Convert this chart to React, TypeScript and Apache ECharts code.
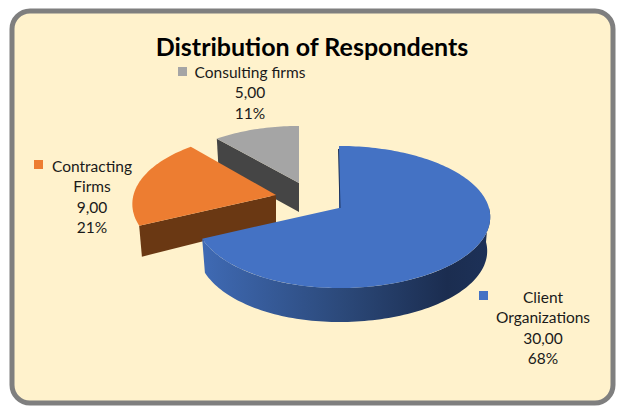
import React, { useEffect, useRef } from "react";
import * as echarts from "echarts";

const titleText = "Distribution of Respondents";
const categories = ["Client Organizations", "Contracting Firms", "Consulting firms"];
const values = [30, 9, 5];
const valueLabels = ["30,00", "9,00", "5,00"];
const percentLabels = ["68%", "21%", "11%"];
const labelLines = [["Client", "Organizations"], ["Contracting", "Firms"], ["Consulting firms"]];

const colors = ["#4472c4", "#ed7d31", "#a5a5a5"];
const wallColors = ["#1d3158", "#6a3813", "#454545"];

const CX = 339, CY = 208, RX_R = 150, RX_L = 142.5, RY = 69.9, K = 0.1268;
const slices = [
  { dx: 0, dy: 0, sx: 1, sy: 1, z: 30, apexDepth: 33, rimDepth: 34, lx: 543, ly: 297, kx: 479, ky: 291 },
  { dx: -63, dy: -13, sx: 1, sy: 1, z: 20, apexDepth: 28, rimDepth: 31, lx: 92, ly: 166, kx: 34, ky: 160 },
  { dx: -40, dy: -25, sx: 0.965, sy: 0.92, z: 10, apexDepth: 29, rimDepth: 29, lx: 250, ly: 72, kx: 178, ky: 67 },
];
const FONT = "Lato";
const LINE_H = 20.3;

function project(theta: number, s: { dx: number; dy: number; sx: number; sy: number }) {
  const sn = Math.sin(theta), c = Math.cos(theta);
  const w = 1 + K * c;
  const rx = sn < 0 ? RX_L : RX_R;
  return [CX + s.dx + (rx * s.sx * sn) / w, CY + s.dy - (RY * s.sy * c) / w];
}
function lower(p: number[], s: { dx: number; dy: number; rimDepth: number }) {
  const ax = CX + s.dx;
  return [ax + (p[0] - ax) * 0.98, p[1] + s.rimDepth];
}
function arc(a: number, b: number, s: any) {
  const n = Math.max(8, Math.round(Math.abs(b - a) * 40));
  const out: number[][] = [];
  for (let i = 0; i <= n; i++) out.push(project(a + ((b - a) * i) / n, s));
  return out;
}

const total = values.reduce((x, y) => x + y, 0);

function renderItem(params: any, api: any) {
  const i = params.dataIndex;
  const v = api.value(0);
  let before = 0;
  for (let j = 0; j < i; j++) before += values[j];
  const a = (before / total) * Math.PI * 2;
  const b = ((before + v) / total) * Math.PI * 2;
  const s = slices[i];
  const apex = [CX + s.dx, CY + s.dy];
  const rim = arc(a, b, s);
  const children: any[] = [];

  if (i === 0) {
    const wallTop = arc(Math.PI / 2, b, s);
    const wallBottom = wallTop.map((p) => lower(p, s)).reverse();
    children.push({
      type: "polygon",
      z2: s.z,
      shape: { points: wallTop.concat(wallBottom) },
      style: {
        fill: new echarts.graphic.LinearGradient(0, 0, 1, 0, [
          { offset: 0, color: "#3f6ab4" },
          { offset: 0.5, color: "#2b4878" },
          { offset: 0.85, color: "#1b2d50" },
          { offset: 1, color: "#1d3158" },
        ]),
      },
    });
  } else {
    const edge = rim[0];
    children.push({
      type: "polygon",
      z2: s.z,
      shape: {
        points: [apex, edge, lower(edge, s), [apex[0], apex[1] + s.apexDepth]],
      },
      style: { fill: wallColors[i] },
    });
  }
  children.push({
    type: "polygon",
    z2: s.z + 1,
    shape: { points: [apex, ...rim] },
    style: { fill: colors[i] },
  });
  if (i === 0) {
    children.push({
      type: "line",
      z2: s.z + 2,
      shape: { x1: rim[0][0] - 0.5, y1: rim[0][1] + 3, x2: apex[0] + 1, y2: apex[1] },
      style: { stroke: wallColors[0], lineWidth: 1 },
    });
  }
  children.push({
    type: "rect",
    z2: 40,
    shape: { x: s.kx, y: s.ky, width: 9, height: 9 },
    style: { fill: colors[i] },
  });
  const lines = [...labelLines[i], valueLabels[i], percentLabels[i]];
  lines.forEach((t, n) => {
    children.push({
      type: "text",
      z2: 40,
      x: s.lx,
      y: s.ly + n * LINE_H,
      style: {
        text: t,
        fill: "#1a1a1a",
        font: `15.5px ${FONT}`,
        align: "center",
        verticalAlign: "middle",
      },
    });
  });
  return { type: "group", children };
}

export default function App() {
  const ref = useRef<HTMLDivElement>(null);
  useEffect(() => {
    const chart = echarts.init(ref.current!, undefined, { renderer: "svg" });
    chart.setOption({
      animation: false,
      backgroundColor: "#ffffff",
      title: {
        text: titleText,
        left: 307,
        top: 28,
        textAlign: "center",
        textStyle: { fontFamily: FONT, fontWeight: "bold", fontSize: 25, color: "#000000" },
      },
      graphic: [
        {
          type: "rect",
          z: 0,
          shape: { x: 12, y: 11, width: 601, height: 392, r: 18 },
          style: { fill: "#fff2cc", stroke: "#7f7f7f", lineWidth: 5 },
        },
      ],
      series: [
        {
          type: "custom",
          coordinateSystem: "none",
          renderItem,
          silent: true,
          data: categories.map((name, i) => ({ name, value: [values[i]] })),
        },
      ],
    });
    return () => chart.dispose();
  }, []);
  return <div ref={ref} style={{ position: "fixed", left: 0, top: 0, width: 621, height: 412 }} />;
}
